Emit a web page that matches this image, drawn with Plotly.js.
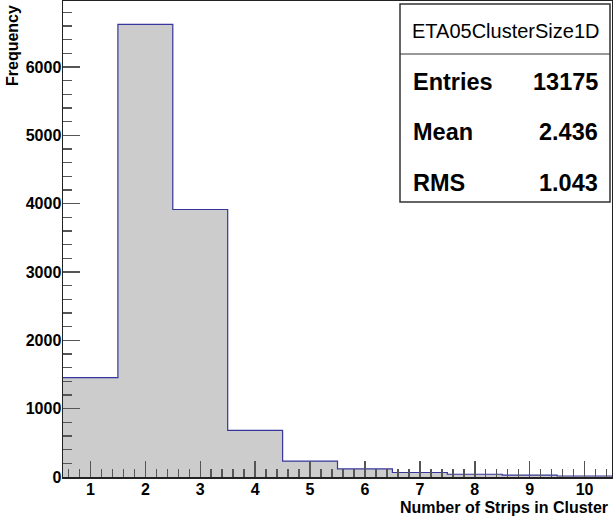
<!DOCTYPE html>
<html>
<head>
<meta charset="utf-8">
<script src="https://cdn.plot.ly/plotly-3.0.1.min.js"></script>
<style>html,body{margin:0;padding:0;background:#fff;}#plot{width:613px;height:519px;}</style>
</head>
<body>
<div id="plot"></div>
<script>
// Data
const binCenters = [1, 2, 3, 4, 5, 6, 7, 8, 9, 10];
const frequencies = [1455, 6625, 3915, 682, 232, 118, 66, 40, 27, 15];
const yTickVals = [0, 1000, 2000, 3000, 4000, 5000, 6000];
const xTickVals = [1, 2, 3, 4, 5, 6, 7, 8, 9, 10];
const statsTitle = "ETA05ClusterSize1D";
const statsLabels = ["Entries", "Mean", "RMS"];
const statsValues = ["13175", "2.436", "1.043"];

const binWidth = 1;
// Step outline built from the bin data
const stepX = binCenters.map(c => c - binWidth / 2).concat([binCenters[binCenters.length - 1] + binWidth / 2]);
const stepY = frequencies.concat([frequencies[frequencies.length - 1]]);

const FONT = "Liberation Sans, Arial, Helvetica, sans-serif";
const W = 613, H = 519;
const L = 63, R = 1, T = 1, B = 42;
const pw = W - L - R, ph = H - T - B;
const px = x => (x - L) / pw;
const py = y => (H - B - y) / ph;

const traces = [
  {
    type: 'bar', x: binCenters, y: frequencies, width: binWidth,
    marker: {color: '#cccccc', line: {width: 0}}, hoverinfo: 'x+y', showlegend: false
  },
  {
    type: 'scatter', mode: 'lines', x: stepX, y: stepY,
    line: {shape: 'hv', color: '#36369c', width: 1.2}, hoverinfo: 'skip', showlegend: false
  }
];

const annotations = [
  {xref: 'paper', yref: 'paper', x: px(12), y: py(46), text: 'Frequency', textangle: -90,
   showarrow: false, font: {family: FONT, size: 16, color: '#000', weight: 'bold'}, xanchor: 'center', yanchor: 'middle'},
  {xref: 'paper', yref: 'paper', x: px(610), y: py(507), text: 'Number of Strips in Cluster',
   showarrow: false, font: {family: FONT, size: 16, color: '#000', weight: 'bold'}, xanchor: 'right', yanchor: 'middle'},
  {xref: 'paper', yref: 'paper', x: px(505), y: py(31), text: statsTitle,
   showarrow: false, font: {family: FONT, size: 20, color: '#000'}, xanchor: 'center', yanchor: 'middle'}
];
const rowY = [82, 132, 183];
statsLabels.forEach((lab, i) => {
  annotations.push({xref: 'paper', yref: 'paper', x: px(411), y: py(rowY[i]), text: lab, showarrow: false,
    font: {family: FONT, size: 23.5, color: '#000', weight: 'bold'}, xanchor: 'left', yanchor: 'middle'});
  annotations.push({xref: 'paper', yref: 'paper', x: px(600), y: py(rowY[i]), text: statsValues[i], showarrow: false,
    font: {family: FONT, size: 23.5, color: '#000', weight: 'bold'}, xanchor: 'right', yanchor: 'middle'});
});

const layout = {
  width: W, height: H,
  margin: {l: L, r: R, t: T, b: B, pad: 0},
  paper_bgcolor: '#fff', plot_bgcolor: '#fff',
  bargap: 0,
  xaxis: {
    range: [0.5, 10.5], tickvals: xTickVals, ticktext: xTickVals.map(String),
    ticks: 'inside', ticklen: 16, tickwidth: 1.5, tickcolor: '#555', ticklabelstandoff: -3,
    minor: {dtick: 0.2, tick0: 0, ticks: 'inside', ticklen: 8, tickwidth: 1.5, tickcolor: '#555'},
    showgrid: false, zeroline: false, showline: true, linecolor: '#222', linewidth: 1.5, mirror: true,
    tickfont: {family: FONT, size: 16, color: '#000', weight: 'bold'}, fixedrange: true
  },
  yaxis: {
    range: [0, 6966], tickvals: yTickVals, ticktext: yTickVals.map(String),
    ticks: 'inside', ticklen: 17, tickwidth: 1.5, tickcolor: '#555', ticklabelstandoff: -3,
    minor: {dtick: 200, tick0: 0, ticks: 'inside', ticklen: 9, tickwidth: 1.5, tickcolor: '#555'},
    showgrid: false, zeroline: false, showline: true, linecolor: '#222', linewidth: 1.5, mirror: true,
    tickfont: {family: FONT, size: 16, color: '#000', weight: 'bold'}, fixedrange: true
  },
  shapes: [
    {type: 'rect', xref: 'paper', yref: 'paper', x0: px(400), x1: px(610), y0: py(4), y1: py(202),
     line: {color: '#333', width: 1.5}, fillcolor: '#fff', layer: 'above'},
    {type: 'line', xref: 'paper', yref: 'paper', x0: px(400), x1: px(610), y0: py(54), y1: py(54),
     line: {color: '#333', width: 1.2}, layer: 'above'}
  ],
  annotations: annotations
};

Plotly.newPlot('plot', traces, layout, {displayModeBar: false, staticPlot: true});
</script>
</body>
</html>
